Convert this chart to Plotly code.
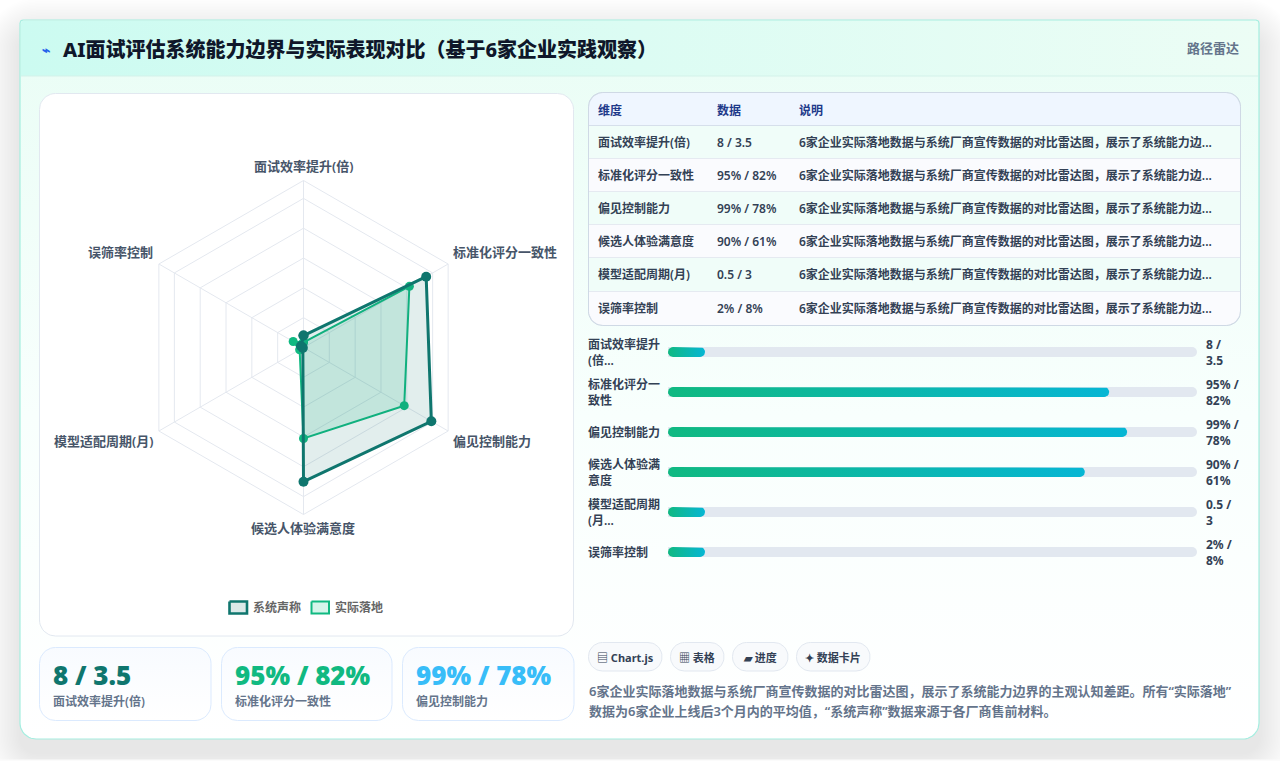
import math
import plotly.graph_objects as go

# ---- data ----
dimensions = ["面试效率提升(倍)", "标准化评分一致性", "偏见控制能力", "候选人体验满意度", "模型适配周期(月)", "误筛率控制"]
claimed_scores = [8, 95, 99, 90, 0.5, 2]
actual_scores = [3.5, 82, 78, 61, 3, 8]
value_labels = ["8 / 3.5", "95% / 82%", "99% / 78%", "90% / 61%", "0.5 / 3", "2% / 8%"]
bar_fill_pct = [7, 83.4, 86.8, 78.8, 7, 7]
bar_labels = ["面试效率提升<br>(倍...", "标准化评分一<br>致性", "偏见控制能力", "候选人体验满<br>意度", "模型适配周期<br>(月...", "误筛率控制"]
bar_value_labels = ["8 /<br>3.5", "95% /<br>82%", "99% /<br>78%", "90% /<br>61%", "0.5 /<br>3", "2% /<br>8%"]
note_short = "6家企业实际落地数据与系统厂商宣传数据的对比雷达图，展示了系统能力边..."
table_columns = ["维度", "数据", "说明"]
series_names = ["系统声称", "实际落地"]
metric_colors = ["#0f766e", "#10b981", "#38bdf8"]
chips = ["▤ Chart.js", "▦ 表格", "▰ 进度", "✦ 数据卡片"]
title = "AI面试评估系统能力边界与实际表现对比（基于6家企业实践观察）"
badge = "路径雷达"
summary_lines = [
    "6家企业实际落地数据与系统厂商宣传数据的对比雷达图，展示了系统能力边界的主观认知差距。所有“实际落地”",
    "数据为6家企业上线后3个月内的平均值，“系统声称”数据来源于各厂商售前材料。",
]

SANS = "Noto Sans, Noto Sans CJK SC, sans-serif"
W, H = 1280, 761


def rounded(x0, y0, x1, y1, tl=0.0, tr=0.0, br=0.0, bl=0.0):
    """Outline of a rectangle with individually rounded corners."""
    xs, ys = [], []
    corners = [(x0 + tl, y0 + tl, tl, 180), (x1 - tr, y0 + tr, tr, 270),
               (x1 - br, y1 - br, br, 0), (x0 + bl, y1 - bl, bl, 90)]
    for cx, cy, r, start in corners:
        steps = 10 if r else 0
        for i in range(steps + 1):
            a = math.radians(start + 90 * i / max(steps, 1))
            xs.append(cx + r * math.cos(a))
            ys.append(cy + r * math.sin(a))
    xs.append(xs[0])
    ys.append(ys[0])
    return xs, ys


fig = go.Figure()


def panel(x0, y0, x1, y1, radii, fill=None, border=None, gradient=None, bw=1):
    xs, ys = rounded(x0, y0, x1, y1, *radii)
    tr = go.Scatter(x=xs, y=ys, mode="lines", fill="toself", hoverinfo="skip", showlegend=False,
                    line=dict(color=border or "rgba(0,0,0,0)", width=bw if border else 0))
    if gradient:
        tr.fillgradient = gradient
    else:
        tr.fillcolor = fill
    fig.add_trace(tr)


def text(x, y, s, size, color, anchor="left", weight=400, family=SANS, align="left"):
    fig.add_annotation(x=x, y=y, text=s, xref="x", yref="y", xanchor=anchor, yanchor="middle",
                       showarrow=False, align=align, borderpad=0, borderwidth=0,
                       font=dict(size=size, color=color, family=family, weight=weight))


# soft drop shadow under the card
shapes = []
for i in range(24):
    grow = 36 - i * 1.5
    x0, y0, x1, y1 = 20 - grow, 20 + 14 - grow, 1259 + grow, 739 + 14 + grow
    xs, ys = rounded(x0, y0, x1, y1, *([16 + grow] * 4))
    path = "M" + "L".join(f"{a:.1f},{b:.1f}" for a, b in zip(xs, ys)) + "Z"
    shapes.append(dict(type="path", path=path, xref="x", yref="y", layer="below",
                       line=dict(width=0), fillcolor="rgba(15,23,42,0.0028)"))
shapes.append(dict(type="rect", x0=0, x1=W, y0=759.5, y1=H, xref="x", yref="y", layer="below",
                   line=dict(width=0), fillcolor="#fbfbfb"))

# card body and header
panel(20, 20, 1259, 739, (3, 3, 16, 16), border="#a5eee0", gradient=dict(
    type="vertical", start=20, stop=739,
    colorscale=[[0, "#e9fdf5"], [0.55, "#f8fffd"], [1, "#ffffff"]]), bw=1.2)
panel(21, 21, 1258, 76, (2, 2, 0, 0), gradient=dict(
    type="horizontal", start=21, stop=1258,
    colorscale=[[0, "#ccfbf1"], [1, "#ecfdf5"]]))
panel(21, 75.5, 1258, 76.5, (0, 0, 0, 0), fill="#d3f1ea")

# radar panel
panel(39.5, 93.5, 573.5, 636, (16, 16, 16, 16), fill="#ffffff", border="#e2e8f0")

# legend swatches
panel(229.5, 601.5, 247, 613.5, (0, 0, 0, 0), fill="#dbe9e8", border="#0f766e", bw=2.6)
panel(311.5, 601.5, 329, 613.5, (0, 0, 0, 0), fill="#d5f5ea", border="#10b981", bw=2)
text(253, 607, series_names[0], 12, "#666666", weight=600)
text(335, 607, series_names[1], 12, "#666666", weight=600)

# metric cards
card_boxes = [(39.5, 211), (221.5, 392), (402.5, 574)]
for (a, b), color, val, dim in zip(card_boxes, metric_colors, value_labels[:3], dimensions[:3]):
    panel(a, 647.5, b, 720.5, (16, 16, 16, 16), border="#dbeafe", gradient=dict(
        type="vertical", start=647, stop=720, colorscale=[[0, "#f8fbff"], [1, "#ffffff"]]))
    text(a + 13.5, 675, val, 26, color, weight=900)
    text(a + 13.5, 701, dim, 12, "#64748b", weight=600)

# table
tx0, tx1 = 589, 1240
row_edges = [93, 126, 159, 192, 225, 258, 292, 325]
row_fills = ["#eff6ff", "#f0fdf9", "#fafbfe", "#f0fdf9", "#fafbfe", "#f0fdf9", "#fafbfe"]
panel(tx0 - 0.5, 92.5, tx1 + 0.5, 325.5, (14, 14, 14, 14), fill="#cbd5e1", border="#cfd9e5")
for i, fillc in enumerate(row_fills):
    top, bot = row_edges[i], row_edges[i + 1]
    radii = (14, 14, 0, 0) if i == 0 else ((0, 0, 14, 14) if i == 6 else (0, 0, 0, 0))
    panel(tx0, top, tx1, bot - (1 if i < 6 else 0), radii, fill=fillc)
    if i < 6:
        panel(tx0, bot - 1, tx1, bot, (0, 0, 0, 0), fill="#d6dfeb" if i == 0 else "#e5eaf1")
col_x = [598, 717, 799]
for x, c in zip(col_x, table_columns):
    text(x, 110, c, 12, "#1e3a8a", weight=700)
for i, (d, v) in enumerate(zip(dimensions, value_labels)):
    y = (row_edges[i + 1] + row_edges[i + 2]) / 2 - 0.5
    text(col_x[0], y, d, 12, "#334155", weight=600)
    text(col_x[1], y, v, 12, "#334155", weight=600)
    text(col_x[2], y, note_short, 12, "#334155", weight=600)

# chips
chip_boxes = [(588.5, 662), (670.5, 724), (732.5, 788), (796.5, 870)]
for (a, b), c in zip(chip_boxes, chips):
    panel(a, 642.5, b, 671, (14, 14, 14, 14), fill="#f8fafc", border="#e2e8f0")
    text((a + b) / 2, 657, c, 11, "#334155", anchor="center", weight=700)

# header and summary text
text(42, 49, "⌁", 14, "#2563eb", weight=700)
text(63, 49, title, 20, "#0f172a", weight=800)
text(1239, 48, badge, 13, "#64748b", anchor="right", weight=600)
for y, line in zip((691, 711), summary_lines):
    text(589, y, line, 13, "#64748b", weight=600)

# progress tracks and gradient fills
rows = list(range(len(dimensions)))
fig.add_trace(go.Bar(x=[100] * len(rows), y=rows, orientation="h", width=10 / 40, xaxis="x2", yaxis="y2",
                     marker=dict(color="#e2e8f0", line=dict(width=0), cornerradius=5),
                     hoverinfo="skip", showlegend=False))
rx = 5 * 100 / 529
ry = 5 / 40
for row, pct in zip(rows, bar_fill_pct):
    xs, ys = [], []
    for cx, start in ((rx, 90), (pct - rx, -90)):
        for i in range(13):
            a = math.radians(start + 180 * i / 12)
            xs.append(cx + rx * math.cos(a))
            ys.append(row + ry * math.sin(a))
    xs.append(xs[0])
    ys.append(ys[0])
    fig.add_trace(go.Scatter(x=xs, y=ys, mode="lines", xaxis="x2", yaxis="y2", fill="toself",
                             line=dict(width=0, color="rgba(0,0,0,0)"), hoverinfo="skip", showlegend=False,
                             fillgradient=dict(type="horizontal",
                                               colorscale=[[0, "#10b981"], [1, "#06b6d4"]])))
for row, lab, val in zip(rows, bar_labels, bar_value_labels):
    y = 352 + row * 40
    text(588, y, lab, 12, "#334155", weight=600)
    text(1206, y, val, 12, "#334155", weight=700)

# radar
theta = dimensions + dimensions[:1]
fig.add_trace(go.Scatterpolar(r=actual_scores + actual_scores[:1], theta=theta, name=series_names[1],
                              mode="lines+markers", fill="toself", fillcolor="rgba(16,185,129,0.15)",
                              line=dict(color="#10b981", width=2), marker=dict(color="#10b981", size=9),
                              showlegend=False))
fig.add_trace(go.Scatterpolar(r=claimed_scores + claimed_scores[:1], theta=theta, name=series_names[0],
                              mode="lines+markers", fill="toself", fillcolor="rgba(15,118,110,0.12)",
                              line=dict(color="#0f766e", width=3), marker=dict(color="#0f766e", size=10),
                              showlegend=False))
label_pos = [(303, 166, "center"), (453, 252, "left"), (453, 441, "left"),
             (303, 528, "center"), (153, 441, "right"), (153, 252, "right")]
for (x, y, anchor), d in zip(label_pos, dimensions):
    text(x, y, d, 13, "#475569", anchor=anchor, weight=600)

GRID = "#e4e8ef"
CX, CY, R = 303.5, 347.5, 167
fig.update_layout(
    width=W, height=H, margin=dict(l=0, r=0, t=0, b=0), paper_bgcolor="#ffffff", plot_bgcolor="rgba(0,0,0,0)",
    showlegend=False, shapes=shapes, barmode="overlay",
    xaxis=dict(domain=[0, 1], range=[0, W], visible=False, fixedrange=True),
    yaxis=dict(domain=[0, 1], range=[H, 0], visible=False, fixedrange=True),
    xaxis2=dict(domain=[668 / W, 1197 / W], range=[0, 100], visible=False, fixedrange=True, anchor="y2"),
    yaxis2=dict(domain=[1 - 572 / H, 1 - 332 / H], range=[5.5, -0.5], visible=False, fixedrange=True, anchor="x2"),
    polar=dict(
        domain=dict(x=[(CX - R) / W, (CX + R) / W], y=[1 - (CY + R) / H, 1 - (CY - R) / H]),
        bgcolor="rgba(0,0,0,0)", gridshape="linear",
        angularaxis=dict(type="category", categoryorder="array", categoryarray=dimensions, rotation=90,
                         direction="clockwise", showticklabels=False, ticks="", showline=True,
                         linecolor=GRID, linewidth=1, gridcolor=GRID, gridwidth=1),
        radialaxis=dict(range=[0, 112], tick0=0, dtick=20, showticklabels=False, ticks="", showline=False,
                        gridcolor=GRID, gridwidth=1),
    ),
)

fig.write_html("out.html", config={"displayModeBar": False})
